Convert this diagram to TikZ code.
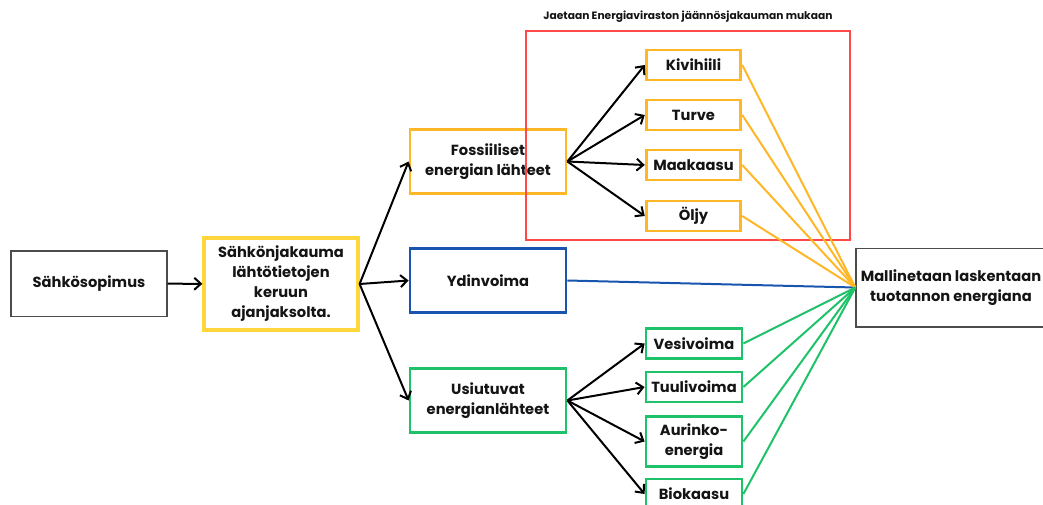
\documentclass[tikz,border=0pt]{standalone}
\usepackage{fontspec}
\setmainfont{Poppins}
\usetikzlibrary{arrows.meta,positioning}
\definecolor{fossil}{RGB}{255,183,40}
\definecolor{keruu}{RGB}{255,214,60}
\definecolor{ydin}{RGB}{25,85,175}
\definecolor{uusi}{RGB}{30,195,105}
\definecolor{jako}{RGB}{255,72,72}

\begin{document}
\begin{tikzpicture}[x=0.75pt,y=-0.75pt,
  box/.style={draw,line width=2.1pt,align=center,inner sep=2pt,text=black!92,font=\bfseries\fontsize{11}{15}\selectfont},
  branch/.style={box,minimum width=117pt,minimum height=48pt},
  leaf/.style={box,minimum width=71pt,minimum height=22.5pt},
  arr/.style={-{Straight Barb[length=5pt,width=9pt]},line width=1.5pt},
  feed/.style={line width=1.5pt}]
  \useasboundingbox (0,0) rectangle (1043,504);
  % lähde ja kerääminen
  \node[box,draw=black!70,line width=1pt,minimum width=117pt,minimum height=49pt] (sopimus) at (89,283.5) {Sähkösopimus};
  \node[box,draw=keruu,line width=2.4pt,minimum width=115.5pt,minimum height=69pt] (keruu) at (281,284) {Sähkönjakauma\\lähtötietojen\\keruun\\ajanjaksolta.};
  \node[box,draw=black!70,line width=1pt,minimum width=142.5pt,minimum height=59pt] (malli) at (951,287.5) {Mallinetaan laskentaan\\tuotannon energiana};
  \draw[arr] (sopimus) -- (keruu);
  % pääryhmät
  \node[branch,draw=fossil] (fossiili) at (488,161.5) {Fossiiliset\\energian lähteet};
  \node[branch,draw=ydin] (ydin) at (488,280.5) {Ydinvoima};
  \node[branch,draw=uusi] (uusi) at (488,400.5) {Usiutuvat\\energianlähteet};
  \foreach \g in {fossiili,ydin,uusi} \draw[arr] (keruu.east) -- (\g.west);
  \draw[feed,ydin] (ydin.east) -- (malli.west);
  % jäännösjakauma
  \draw[jako,line width=1.7pt] (526,31) rectangle (850,240);
  \node[font=\bfseries\fontsize{8}{10}\selectfont,text=black!92] (jako) at (688,17) {Jaetaan Energiaviraston jäännösjakauman mukaan};
  \foreach \n/\t/\y in {kivi/Kivihiili/65,turve/Turve/115,kaasu/Maakaasu/165,oljy/Öljy/216} {
    \node[leaf,draw=fossil] (\n) at (693.5,\y) {\t};
    \draw[arr] (fossiili.east) -- (\n.west);
    \draw[feed,fossil] (\n.east) -- (malli.west);}
  \foreach \n/\t/\y/\h in {vesi/Vesivoima/343.5/22.5,tuuli/Tuulivoima/387/22.5,aurinko/Aurinko-\\energia/441.5/38,bio/Biokaasu/494/22.5} {
    \node[leaf,draw=uusi,minimum width=72pt,minimum height=\h pt] (\n) at (694,\y) {\t};
    \draw[arr] (uusi.east) -- (\n.west);
    \draw[feed,uusi] (\n.east) -- (malli.west);}
\end{tikzpicture}
\end{document}
